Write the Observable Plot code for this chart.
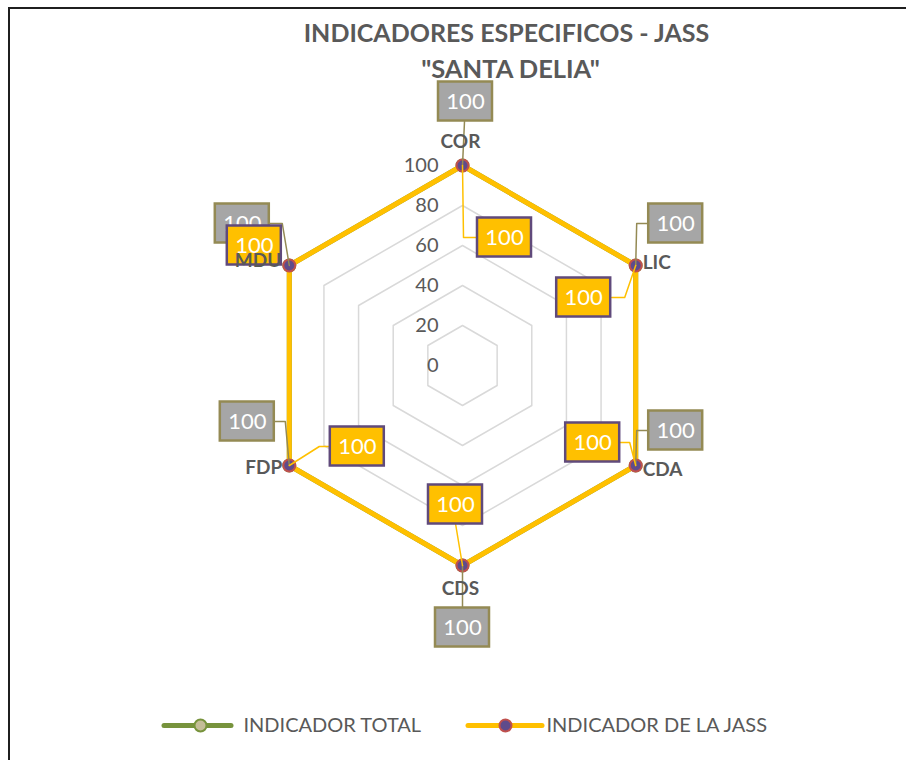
<!DOCTYPE html>
<html>
<head>
<meta charset="utf-8">
<script src="https://cdn.jsdelivr.net/npm/d3@7"></script>
<script src="https://cdn.jsdelivr.net/npm/@observablehq/plot@0.6"></script>
<style>
  html, body { margin: 0; padding: 0; background: #fff; }
  #wrap { position: relative; width: 906px; height: 760px; overflow: hidden; }
  #frame { position: absolute; left: 8px; top: 7px; right: -10px; bottom: -10px; border-left: 2.5px solid #1f1f1f; border-top: 2.5px solid #1f1f1f; pointer-events: none; }
</style>
</head>
<body>
<div id="wrap"><div id="chart"></div><div id="frame"></div></div>
<script>
// ---------- data ----------
const categories = ["COR", "LIC", "CDA", "CDS", "FDP", "MDU"];
const totalValues = [100, 100, 100, 100, 100, 100];
const jassValues  = [100, 100, 100, 100, 100, 100];
const tickValues  = [0, 20, 40, 60, 80, 100];
const gridLevels  = [20, 40, 60, 80, 100];
const seriesNames = ["INDICADOR TOTAL", "INDICADOR DE LA JASS"];
const titleLines  = ["INDICADORES ESPECIFICOS - JASS", "\"SANTA DELIA\""];

// ---------- layout (pixel offsets, not data) ----------
const CX = 462, CY = 365;                 // centre of radar in pixels
const u = (p) => p / 2;                    // 1 data unit = 2 px
const X = (xp) => (xp - CX) / 2;           // pixel -> data x
const Y = (yp) => (CY - yp) / 2;           // pixel -> data y
const BW = 54, BH = 39;                    // label box size (px)

const totalBoxOff = [[3,-64],[40,-42],[40,-35],[0,62],[-42,-44],[-47,-42]];
const jassBoxOff  = [[42,72],[-52,32],[-43,-23],[-7,-61],[68,-19],[-35,-20]];
const totalLeader = [
  [[2,-44],[0,0]],
  [[13,-42],[1,-42],[0,0]],
  [[13,-35],[1,-35],[0,0]],
  [[0,43],[0,0]],
  [[-16,-44],[-4,-44],[0,0]],
  [[-20,-42],[-7,-42],[0,0]]
];
const jassLeader = [
  [[15,72],[1,72],[0,0]],
  [[-24,32],[-11,32],[0,0]],
  [[-17,-23],[-6,-23],[0,0]],
  [[-7,-42],[0,0]],
  [[41,-19],[30,-19],[0,0]],
  []
];
const catLabelOff = [[-2,-24,"middle"],[7,-3,"start"],[7,4,"start"],[-2,23,"middle"],[-7,2,"end"],[-8,-5,"end"]];

// ---------- geometry ----------
const ang = (i) => (i * 2 * Math.PI) / categories.length;
const polar = (i, v) => ({x: v * Math.sin(ang(i)), y: v * Math.cos(ang(i))});

const gridPts = gridLevels.flatMap(l =>
  [...categories.keys(), 0].map(i => ({level: l, ...polar(i, l)})));
const totalPts = totalValues.map((v, i) => ({cat: categories[i], v, ...polar(i, v)}));
const jassPts  = jassValues.map((v, i) => ({cat: categories[i], v, ...polar(i, v)}));
const closed = (pts) => [...pts, pts[0]];

function boxes(pts, offs) {
  return pts.map((p, i) => {
    const cx = p.x + u(offs[i][0]), cy = p.y - u(offs[i][1]);
    return {x1: cx - u(BW/2), x2: cx + u(BW/2), y1: cy - u(BH/2), y2: cy + u(BH/2), cx, cy, text: String(p.v)};
  });
}
function leaders(pts, legs) {
  return pts.flatMap((p, i) => legs[i].map(([dx, dy], k) => ({id: i, k, x: p.x + u(dx), y: p.y - u(dy)})));
}
const totalBoxes = boxes(totalPts, totalBoxOff);
const jassBoxes  = boxes(jassPts, jassBoxOff);
const totalLead  = leaders(totalPts, totalLeader);
const jassLead   = leaders(jassPts, jassLeader);

const catLabels = categories.map((c, i) => {
  const p = polar(i, 100);
  return {text: c, x: p.x + u(catLabelOff[i][0]), y: p.y - u(catLabelOff[i][1]), anchor: catLabelOff[i][2]};
});

// legend geometry (pixels)
const legend = [
  {name: seriesNames[0], x1: 164, x2: 231, cx: 200, tx: 243, stroke: "#77933C", fill: "#C4BD97", dstroke: "#77933C"},
  {name: seriesNames[1], x1: 468, x2: 542, cx: 505, tx: 546, stroke: "#FFC000", fill: "#5F4B8B", dstroke: "#C0504D"}
];
const LY = 725;

const FONT = "Lato, 'Open Sans', sans-serif";
const GRAY = "#595959";

const catMark = (anchor) => Plot.text(catLabels.filter(d => d.anchor === anchor),
  {x: "x", y: "y", text: "text", textAnchor: anchor, fontSize: 19, fontWeight: "bold", fill: GRAY});

const chart = Plot.plot({
  width: 906, height: 760, margin: 0,
  x: {domain: [-231, 222], axis: null},
  y: {domain: [-197.5, 182.5], axis: null},
  style: {fontFamily: FONT, background: "transparent", overflow: "visible"},
  marks: [
    // title
    Plot.text([titleLines[0]], {x: X(506), y: Y(33), text: d => d, fontSize: 25, fontWeight: "bold", fill: GRAY}),
    Plot.text([titleLines[1]], {x: X(510), y: Y(69), text: d => d, fontSize: 25.5, fontWeight: "bold", fill: GRAY}),
    // grid hexagons
    Plot.line(gridPts, {x: "x", y: "y", z: "level", stroke: "#D9D9D9", strokeWidth: 1.5}),
    // tick labels
    Plot.text(tickValues, {x: X(438), y: d => d, text: d => String(d), textAnchor: "end", fontSize: 20, fill: GRAY}),
    // total series (underneath)
    Plot.line(closed(totalPts), {x: "x", y: "y", stroke: "#77933C", strokeWidth: 5, strokeLinejoin: "round"}),
    Plot.dot(totalPts, {x: "x", y: "y", r: 6, fill: "#C4BD97", stroke: "#77933C", strokeWidth: 2}),
    // jass series
    Plot.line(closed(jassPts), {x: "x", y: "y", stroke: "#FFC000", strokeWidth: 5, strokeLinejoin: "miter"}),
    Plot.dot(jassPts, {x: "x", y: "y", r: 6, fill: "#5F4B8B", stroke: "#C0504D", strokeWidth: 2}),
    // leader lines
    Plot.line(totalLead, {x: "x", y: "y", z: "id", stroke: "#948A54", strokeWidth: 1.5}),
    Plot.line(jassLead, {x: "x", y: "y", z: "id", stroke: "#FFC000", strokeWidth: 1.5}),
    // label boxes
    Plot.rect(totalBoxes, {x1: "x1", x2: "x2", y1: "y1", y2: "y2", fill: "#A6A6A6", stroke: "#948A54", strokeWidth: 2.5}),
    Plot.text(totalBoxes, {x: "cx", y: "cy", text: "text", fill: "white", fontSize: 22}),
    Plot.rect(jassBoxes, {x1: "x1", x2: "x2", y1: "y1", y2: "y2", fill: "#FFC000", stroke: "#604A7B", strokeWidth: 2.5}),
    Plot.text(jassBoxes, {x: "cx", y: "cy", text: "text", fill: "white", fontSize: 22}),
    // category labels
    catMark("middle"), catMark("start"), catMark("end"),
    // legend
    Plot.ruleY(legend, {x1: d => X(d.x1), x2: d => X(d.x2), y: Y(LY), stroke: "stroke", strokeWidth: 5, strokeLinecap: "round"}),
    Plot.dot(legend, {x: d => X(d.cx), y: Y(LY), r: 6, fill: "fill", stroke: "dstroke", strokeWidth: 2}),
    Plot.text(legend, {x: d => X(d.tx), y: Y(LY), text: "name", textAnchor: "start", fontSize: 20, fill: GRAY})
  ]
});
document.getElementById("chart").append(chart);
</script>
</body>
</html>
